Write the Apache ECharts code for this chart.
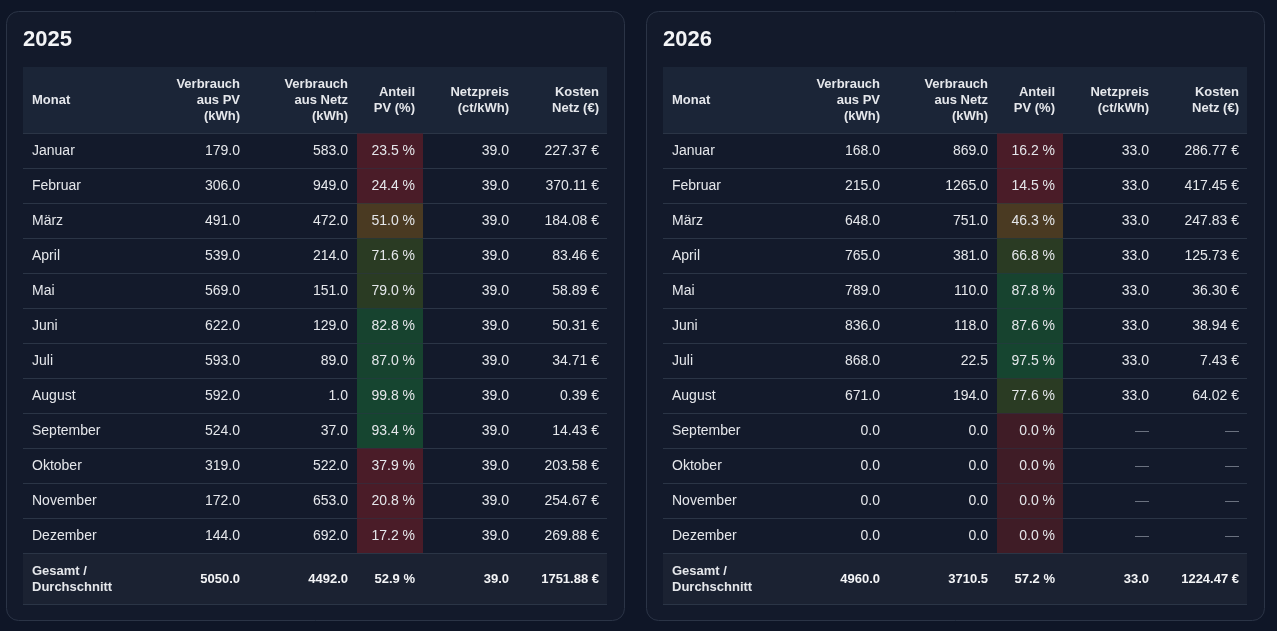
<!DOCTYPE html>
<html><head><meta charset="utf-8">
<script src="https://cdn.jsdelivr.net/npm/echarts@6/dist/echarts.min.js"></script>
<style>html,body{margin:0;background:#0f1627;}#c{width:1277px;height:631px;}</style>
</head><body><div id="c"></div>
<script>
// table data
var months = ['Januar','Februar','März','April','Mai','Juni','Juli','August','September','Oktober','November','Dezember'];
var pv2025 = [179,306,491,539,569,622,593,592,524,319,172,144];
var netz2025 = [583,949,472,214,151,129,89,1,37,522,653,692];
var anteil2025 = [23.5,24.4,51.0,71.6,79.0,82.8,87.0,99.8,93.4,37.9,20.8,17.2];
var preis2025 = [39,39,39,39,39,39,39,39,39,39,39,39];
var kosten2025 = [227.37,370.11,184.08,83.46,58.89,50.31,34.71,0.39,14.43,203.58,254.67,269.88];
var total2025 = [5050.0, 4492.0, 52.9, 39.0, 1751.88];

var pv2026 = [168,215,648,765,789,836,868,671,0,0,0,0];
var netz2026 = [869,1265,751,381,110,118,22.5,194,0,0,0,0];
var anteil2026 = [16.2,14.5,46.3,66.8,87.8,87.6,97.5,77.6,0,0,0,0];
var preis2026 = [33,33,33,33,33,33,33,33,null,null,null,null];
var kosten2026 = [286.77,417.45,247.83,125.73,36.30,38.94,7.43,64.02,null,null,null,null];
var total2026 = [4960.0, 3710.5, 57.2, 33.0, 1224.47];

var chart = echarts.init(document.getElementById('c'));
var FONT = 'Liberation Sans, Arial, sans-serif';
var W = 584;
// right edges of the number columns (relative to table left)
var colRight = [217, 325, 392, 486, 576];
var cellX = [334, 400];
var LINE = '#2b3546';

function pctColor(v) {
    if (v === 0) return '#3f1c26';
    if (v < 40) return '#4a1c28';
    if (v < 60) return '#4a3a22';
    if (v < 80) return '#2a3b23';
    if (v < 90) return '#17432f';
    return '#164530';
}

function rows(pv, netz, anteil, preis, kosten) {
    return months.map(function (m, i) {
        return [i, m, pv[i], netz[i], anteil[i], preis[i], kosten[i]];
    });
}

function txt(x, y, s, align, bold) {
    return {type: 'text', x: x, y: y, style: {text: s, fill: '#e5e7eb', font: (bold ? 'bold ' : '') + '14px ' + FONT, align: align || 'right', verticalAlign: 'middle'}};
}

function renderRow(params, api) {
    var i = api.value(0);
    var d = params.seriesIndex === 0 ? data25 : data26;
    var r = d[i];
    var c = api.coord([0, i]);
    var h = api.size([0, 1])[1];
    var x0 = c[0], yc = c[1];
    var dash = '—';
    return {type: 'group', children: [
        {type: 'rect', shape: {x: x0 + cellX[0], y: yc - h / 2, width: cellX[1] - cellX[0], height: h}, style: {fill: pctColor(r[4])}},
        {type: 'line', shape: {x1: x0, y1: yc + h / 2, x2: x0 + W, y2: yc + h / 2}, style: {stroke: LINE, lineWidth: 1}},
        txt(x0 + 9, yc, r[1], 'left'),
        txt(x0 + colRight[0], yc, r[2].toFixed(1)),
        txt(x0 + colRight[1], yc, r[3].toFixed(1)),
        txt(x0 + colRight[2], yc, r[4].toFixed(1) + ' %'),
        r[5] == null ? {type: 'text', x: x0 + colRight[3], y: yc, style: {text: dash, fill: '#6b7280', font: '14px ' + FONT, align: 'right', verticalAlign: 'middle'}} : txt(x0 + colRight[3], yc, r[5].toFixed(1)),
        r[6] == null ? {type: 'text', x: x0 + colRight[4], y: yc, style: {text: dash, fill: '#6b7280', font: '14px ' + FONT, align: 'right', verticalAlign: 'middle'}} : txt(x0 + colRight[4], yc, r[6].toFixed(2) + ' €')
    ]};
}

var data25 = rows(pv2025, netz2025, anteil2025, preis2025, kosten2025);
var data26 = rows(pv2026, netz2026, anteil2026, preis2026, kosten2026);

var headers = [
    ['Verbrauch', 'aus PV', '(kWh)'],
    ['Verbrauch', 'aus Netz', '(kWh)'],
    ['Anteil', 'PV (%)'],
    ['Netzpreis', '(ct/kWh)'],
    ['Kosten', 'Netz (€)']
];

function card(ox, year, total) {
    var tx = ox + 23;
    var els = [
        {type: 'rect', shape: {x: ox + 6.5, y: 11.5, width: 618, height: 609, r: 12}, style: {fill: '#131a2b', stroke: '#2b3446', lineWidth: 1}},
        {type: 'text', x: tx, y: 40, style: {text: year, fill: '#f3f4f6', font: 'bold 22px ' + FONT, verticalAlign: 'middle'}},
        {type: 'rect', shape: {x: tx, y: 67, width: W, height: 66}, style: {fill: '#1b2537'}},
        {type: 'line', shape: {x1: tx, y1: 133.5, x2: tx + W, y2: 133.5}, style: {stroke: LINE, lineWidth: 1}},
        {type: 'text', x: tx + 9, y: 100, style: {text: 'Monat', fill: '#e5e7eb', font: 'bold 13px ' + FONT, verticalAlign: 'middle'}},
        {type: 'rect', shape: {x: tx, y: 553, width: W, height: 51}, style: {fill: '#1b2232'}},
        {type: 'line', shape: {x1: tx, y1: 604.5, x2: tx + W, y2: 604.5}, style: {stroke: LINE, lineWidth: 1}},
        {type: 'text', x: tx + 9, y: 579, style: {text: 'Gesamt /\nDurchschnitt', fill: '#e5e7eb', font: 'bold 13px ' + FONT, lineHeight: 16, verticalAlign: 'middle'}}
    ];
    headers.forEach(function (h, k) {
        els.push({type: 'text', x: tx + colRight[k], y: 100, style: {text: h.join('\n'), fill: '#e5e7eb', font: 'bold 13px ' + FONT, lineHeight: 16, align: 'right', verticalAlign: 'middle'}});
    });
    var tt = [total[0].toFixed(1), total[1].toFixed(1), total[2].toFixed(1) + ' %', total[3].toFixed(1), total[4].toFixed(2) + ' €'];
    tt.forEach(function (s, k) {
        els.push({type: 'text', x: tx + colRight[k], y: 579, style: {text: s, fill: '#f3f4f6', font: 'bold 13px ' + FONT, align: 'right', verticalAlign: 'middle'}});
    });
    return els;
}

var axisOff = {show: false};
chart.setOption({
    backgroundColor: '#0f1627',
    animation: false,
    graphic: {elements: card(0, '2025', total2025).concat(card(640, '2026', total2026))},
    grid: [
        {left: 23, top: 133.5, width: W, height: 420},
        {left: 663, top: 133.5, width: W, height: 420}
    ],
    xAxis: [
        {type: 'value', gridIndex: 0, min: 0, max: W, show: false},
        {type: 'value', gridIndex: 1, min: 0, max: W, show: false}
    ],
    yAxis: [
        {type: 'category', gridIndex: 0, data: months, inverse: true, show: false},
        {type: 'category', gridIndex: 1, data: months, inverse: true, show: false}
    ],
    series: [
        {type: 'custom', xAxisIndex: 0, yAxisIndex: 0, renderItem: renderRow, data: data25.map(function (r) { return [r[0]]; }), encode: {y: 0}},
        {type: 'custom', xAxisIndex: 1, yAxisIndex: 1, renderItem: renderRow, data: data26.map(function (r) { return [r[0]]; }), encode: {y: 0}}
    ]
});
</script></body></html>
